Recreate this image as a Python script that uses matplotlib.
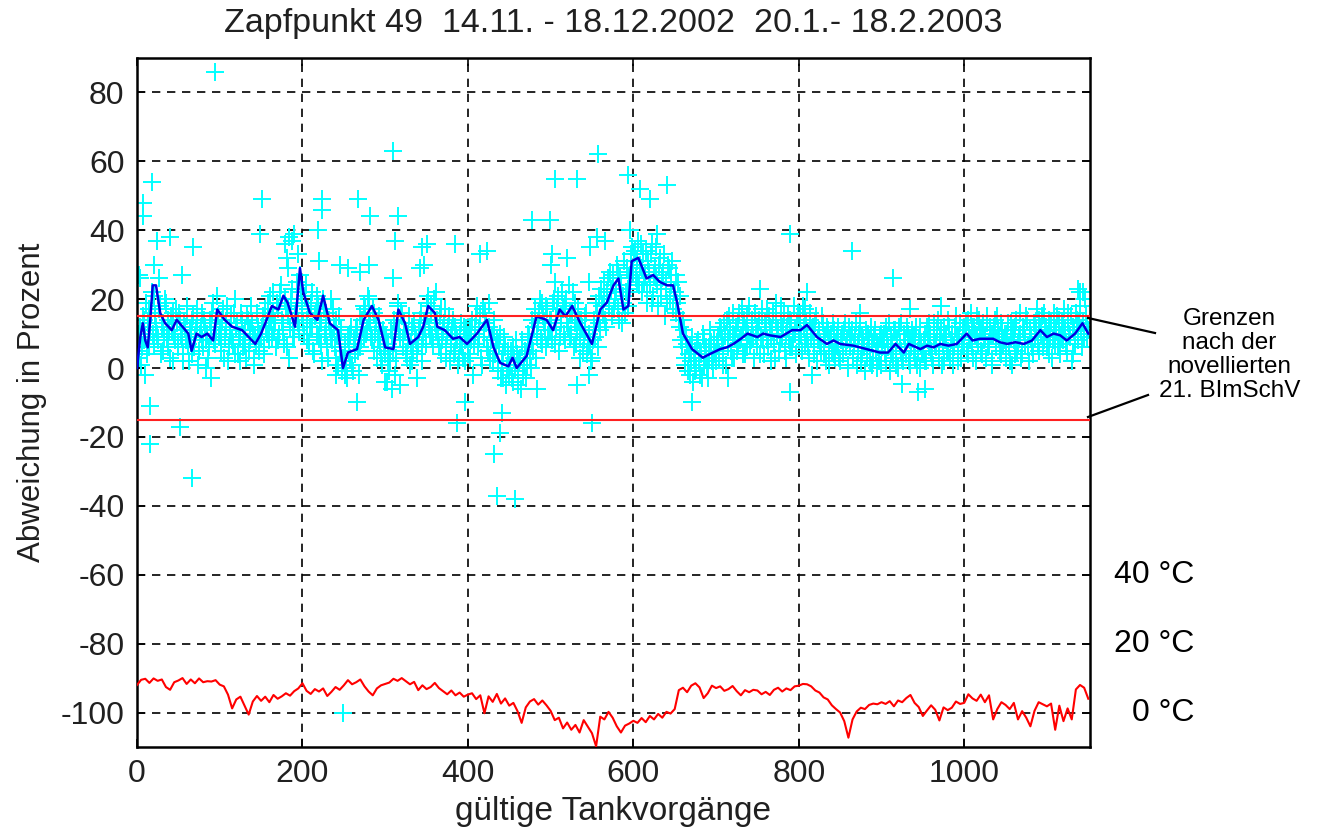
import matplotlib
matplotlib.use('Agg')
import matplotlib.pyplot as plt
import numpy as np

plt.rcParams['font.family'] = ['Liberation Sans', 'DejaVu Sans']
plt.rcParams['axes.unicode_minus'] = False

# Abweichung je Tankvorgang, gerade Vorgaenge (x = 0, 2, 4, ...)
dev_even = [
    8, 3, 12, 6, 14, 9, 4, 17, 11, 22, 7, 15, 10, 26, 18, 12, 5, 20, 9, 14, 3, 11, 16, 8, 13,
    6, 14, 9, 2, 12, 18, 7, 11, 4, 15, 9, 13, 1, 10, 16, 6, 12, 8, 3, 14, 10, 19, 7, 12, 15,
    11, 5, 17, 9, 13, 2, 10, 15, 7, 20, 12, 4, 9, 16, 6, 11, 3, 14, 8, 18, 10, 1, 7, 12, 5,
    9, 15, 4, 12, 19, 8, 14, 22, 11, 6, 17, 10, 24, 13, 7, 18, 15, 3, 20, 12, 9, 16, 25, 11, 22,
    18, 10, 24, 14, 7, 19, 12, 4, 16, 21, 9, 13, 2, 17, 11, 6, 14, 20, 8, 12, 3, 10, 15, 5, -1,
    2, 7, -3, 5, 10, 1, 8, 4, 12, -2, 6, 14, 9, 17, 11, 20, 13, 8, 16, 10, 3, 12, 6, 1, 9,
    4, -4, 7, 2, 10, 5, -2, 13, 18, 9, 15, 6, 11, 3, 8, 1, 12, 5, 10, -3, 7, 14, 2, 9, 12,
    15, 21, 10, 18, 7, 13, 22, 9, 15, 4, 11, 17, 6, 12, 2, 9, 14, 5, 10, 1, 7, 13, 3, 8, 11,
    4, 12, 8, -2, 10, 15, 6, 11, 3, 17, 9, 13, 5, 19, 8, 2, 11, 6, 0, 7, -3, 4, 9, -5, 2,
    -2, 5, -4, 3, 8, -1, 2, -6, 6, 1, -3, 4, 9, 0, 7, 12, 3, 10, 16, 8, 19, 13, 6, 17, 11,
    14, 8, 20, 12, 17, 5, 15, 22, 10, 18, 13, 24, 9, 16, 6, 19, 11, 14, 3, 12, 8, 15, 4, 10, 7,
    3, 12, 9, 16, 21, 11, 18, 25, 14, 22, 19, 28, 15, 24, 20, 30, 17, 26, 13, 21, 16, 29, 23, 27, 35,
    28, 34, 25, 37, 30, 22, 33, 27, 19, 31, 24, 36, 21, 29, 26, 18, 32, 23, 28, 15, 25, 30, 20, 27, 17,
    22, 16, 25, 12, 8, 14, 3, 9, -1, 6, 2, -4, 5, 0, 8, -2, 4, 10, 1, 6, -3, 3, 7, 0, 5,
    2, 9, 4, 11, 6, 13, 1, 8, 15, 5, 10, 3, 12, 7, 16, 9, 4, 14, 11, 6, 18, 8, 13, 3, 10,
    6, 14, 9, 17, 4, 12, 8, 15, 2, 11, 7, 19, 10, 5, 13, 9, 16, 3, 12, 8, 14, 6, 18, 10, 13,
    8, 15, 5, 12, 17, 9, 3, 14, 11, 6, 13, 2, 10, 7, 15, 4, 9, 12, 1, 8, 5, 11, 3, 9, 6,
    2, 10, 5, 13, 8, 0, 6, 11, 3, 9, 1, 7, 12, 4, 8, -1, 5, 10, 2, 7, 3, 11, 0, 6, 9,
    1, 8, 4, 12, 6, -1, 9, 3, 11, 5, 0, 7, 13, 2, 8, 4, 10, 1, 6, 9, 3, 12, 5, 0, 7,
    4, 10, 2, 8, 13, 5, 1, 9, 6, 14, 3, 11, 7, 2, 10, 5, 12, 8, 1, 6, 15, 4, 9, 3, 11,
    7, 13, 4, 10, 16, 6, 12, 2, 9, 14, 5, 11, 8, 3, 13, 7, 10, 1, 12, 6, 15, 9, 4, 11, 8,
    3, 10, 6, 13, 1, 8, 12, 5, 9, 16, 4, 11, 7, 14, 2, 10, 6, 13, 9, 17, 5, 12, 15, 8, 11,
    6, 14, 9, 3, 12, 7, 15, 10, 4, 13, 8, 11, 5, 16, 9, 2, 12, 7, 14, 10, 18, 6, 13, 20, 9,
    11,
]

# ungerade Vorgaenge (x = 1, 3, 5, ...)
dev_odd = [
    5, 10, 1, 15, 8, 19, 13, 6, 16, 10, 21, 12, 8, 17, 4, 13, 9, 19, 6, 11, 15, 2, 10, 17, 7,
    16, 10, 4, 13, 8, 15, 2, 9, 14, 6, 11, 17, 5, 12, 8, 14, 0, 10, 6, 13, 16, 8, 11, 21, 9,
    8, 14, 3, 12, 18, 6, 11, 8, 16, 4, 13, 9, 2, 14, 10, 7, 15, 5, 11, 13, 3, 9, 16, 6, 10,
    12, 6, 17, 10, 14, 21, 9, 16, 13, 19, 8, 22, 14, 11, 20, 6, 17, 12, 23, 9, 15, 19, 13, 27, 16,
    13, 21, 8, 17, 12, 22, 5, 15, 10, 18, 14, 7, 20, 10, 16, 3, 12, 9, 17, 6, 14, 1, 8, 11, 3,
    6, 0, 9, 3, 12, -1, 7, 11, 5, 15, 8, 12, 18, 10, 21, 14, 9, 17, 5, 13, 8, 15, 3, 11, 6,
    9, 2, -1, 11, 6, 14, 3, 19, 11, 16, 8, 13, 4, 10, 15, 7, 2, 13, 8, 4, 11, 16, 6, 13, 7,
    19, 12, 16, 9, 20, 11, 14, 6, 17, 8, 13, 3, 10, 15, 7, 11, 4, 12, 8, 3, 10, 6, 12, 2, 9,
    9, 3, 14, 7, 12, 18, 9, 15, 1, 11, 16, 6, 12, 3, 9, 14, 4, 8, -1, 10, 2, -3, 6, 0, 5,
    1, -3, 6, 0, 4, -5, 3, 8, -2, 5, 1, 10, 3, 14, 5, 17, 9, 13, 20, 7, 15, 11, 18, 9, 14,
    11, 19, 7, 15, 21, 9, 13, 17, 8, 20, 12, 16, 10, 22, 13, 7, 17, 9, 14, 5, 11, 16, 6, 9, 2,
    8, 14, 19, 6, 13, 23, 16, 20, 12, 26, 18, 23, 27, 17, 22, 28, 14, 24, 19, 31, 22, 18, 26, 33, 29,
    33, 26, 31, 24, 36, 29, 25, 34, 22, 28, 33, 19, 27, 35, 24, 30, 21, 26, 33, 23, 19, 29, 24, 31, 22,
    27, 19, 14, 21, 6, 11, 1, 7, 4, -2, 9, 3, -1, 7, 2, 5, -3, 8, 3, 0, 6, 11, 2, 8, 4,
    7, 3, 12, 8, 1, 10, 14, 6, 11, 3, 16, 9, 5, 13, 8, 17, 12, 4, 15, 10, 7, 14, 9, 16, 12,
    11, 4, 15, 8, 13, 17, 6, 12, 9, 16, 3, 14, 11, 7, 18, 12, 5, 10, 15, 6, 13, 9, 11, 4, 16,
    14, 10, 18, 7, 13, 6, 16, 9, 12, 4, 15, 8, 11, 5, 13, 9, 2, 11, 6, 10, 13, 4, 7, 12, 3,
    8, 4, 11, 6, 1, 12, 9, 3, 7, 13, 5, 10, 2, 9, 6, 11, 3, 8, 12, 1, 9, 5, 7, 2, 10,
    6, 10, 2, 9, 13, 4, 7, 11, 1, 8, 12, 5, 3, 10, 6, 12, 2, 8, 11, 5, 9, 1, 8, 12, 4,
    8, 2, 12, 6, 10, 3, 13, 7, 11, 4, 9, 1, 12, 8, 5, 14, 3, 10, 6, 12, 9, 2, 13, 7, 10,
    11, 5, 14, 8, 12, 3, 10, 15, 7, 11, 4, 13, 9, 15, 6, 12, 2, 10, 14, 8, 11, 5, 13, 7, 10,
    8, 13, 2, 9, 11, 4, 14, 7, 10, 3, 12, 8, 15, 6, 11, 9, 4, 13, 11, 7, 14, 10, 6, 16, 12,
    10, 4, 13, 8, 16, 11, 6, 14, 9, 12, 17, 7, 13, 10, 15, 4, 11, 16, 8, 13, 11, 22, 9, 15, 12,
]

# einzelne Ausreisser
out_x = [94, 310, 18, 7, 7, 151, 224, 224, 267, 282, 316, 24, 40, 68, 149, 179, 184, 187, 190,
         219, 312, 345, 347, 181, 183, 195, 220, 246, 255, 270, 280, 21, 54, 4, 310, 2,
         10, 90, 16, 52, 16, 66, 266, 240, 252, 300, 308, 318,
         557, 505, 532, 594, 608, 620, 641, 478, 499, 351, 385, 415, 423, 500, 502, 520, 342,
         548, 556, 566, 596, 629, 505, 546,
         397, 387, 441, 439, 431, 435, 457, 550, 532, 671, 483, 547, 249,
         790, 864, 914, 753, 810, 1137, 1140, 715, 790, 816, 925, 944, 953, 874, 935, 972]
out_y = [86, 63, 54, 48, 44, 49, 49, 46, 49, 44, 44, 37, 38, 35, 39, 36, 38, 37, 39,
         40, 37, 35, 30, 32, 29, 33, 31, 30, 29, 28, 30, 30, 27, 26, 26, 27,
         -2, -3, -11, -17, -22, -32, -10, -2, -2, -4, -6, -5,
         62, 55, 55, 56, 52, 49, 53, 43, 43, 36, 36, 33, 34, 30, 33, 32, 29,
         35, 38, 37, 40, 39, 25, 25,
         -10, -16, -13, -19, -25, -37, -38, -16, -5, -10, -6, -2, -100,
         39, 34, 26, 23, 22, 23, 22, -3, -7, -2, -4.5, -7, -6, 16, 17, 18]

# gleitender Mittelwert
mean_x = [0, 4, 7, 10, 13, 16, 19, 23, 28, 34, 42, 48, 55, 62, 66, 72, 78, 85, 92, 97, 106, 115,
          127, 135, 143, 150, 155, 163, 171, 177, 182, 186, 191, 197, 201, 209, 218, 225, 233,
          243, 249, 255, 266, 274, 284, 292, 300, 310, 316, 324, 330, 340, 346, 352, 360, 363,
          372, 382, 390, 399, 411, 417, 423, 431, 439, 449, 454, 459, 471, 483, 495, 503, 511,
          518, 526, 536, 550, 560, 568, 576, 582, 588, 594, 598, 606, 616, 624, 632, 641, 648,
          653, 660, 671, 684, 692, 705, 713, 721, 730, 738, 750, 757, 765, 778, 792, 802, 810,
          822, 834, 842, 850, 866, 882, 898, 908, 917, 927, 933, 947, 955, 963, 971, 981, 991,
          1003, 1010, 1019, 1035, 1043, 1052, 1062, 1072, 1082, 1092, 1100, 1108, 1116, 1124,
          1134, 1143, 1150]
mean_y = [0, 9, 13, 8, 6, 14, 24, 24, 16, 13, 11, 14, 12, 10, 5, 10, 9, 10, 8, 17, 14, 12,
          11, 9, 7, 10, 13, 18, 17, 21, 19, 16, 12, 29, 22, 16, 14, 21, 13,
          11, 0, 4.5, 5.5, 14, 18, 14, 6, 5.5, 17, 13, 7, 9, 12, 18, 16, 12,
          11, 8.5, 9, 7, 10, 12, 14, 6, 1.5, 0.5, 3, 0, 3.5, 15, 14, 11, 17,
          15, 18, 13, 7, 17, 19, 24, 26, 17, 18, 31, 32, 26, 27, 25, 24, 24,
          19, 10, 5.5, 3, 4, 5.5, 6, 7, 8.5, 10, 9, 10, 9.5, 9, 11, 11, 12.5,
          9, 7, 8, 7, 6.5, 5.5, 4.5, 4.5, 7, 4.5, 7, 5.5, 6.5, 6, 7, 6.5, 7,
          10, 8, 8.5, 8.5, 7.5, 7, 7.5, 7, 8, 11, 9, 10, 9.5, 8,
          10, 13, 10]

# Temperatur in °C, alle 5 Vorgaenge
temp_c = [
    8, 9.5, 9.8, 8.6, 9.9, 9.2, 9.6, 7.4, 6.6, 8.8,
    9.3, 10, 8.3, 9.6, 8.5, 9.9, 8.8, 9.1, 9.0, 9.4,
    8.1, 7.6, 5.2, 1.2, 3.8, 4.6, 2.0, -0.6, 3.2, 4.8,
    3.4, 4.6, 3.0, 5.1, 4.0, 4.7, 5.6, 4.9, 6.2, 7.0,
    8.5, 6.3, 5.4, 6.8, 6.1, 7.0, 4.8, 6.0, 7.4, 6.6,
    7.9, 9.4, 8.2, 8.8, 9.6, 7.6, 6.1, 5.0, 7.0, 7.9,
    8.3, 8.7, 9.8, 9.2, 10, 9.1, 8.2, 8.9, 6.5, 7.9,
    6.8, 7.4, 8.6, 7.1, 6.2, 5.3, 6.4, 5.0, 5.8, 4.6,
    5.2, 5.6, 3.9, 5.0, -0.2, 4.7, 3.1, 5.4, 2.6, 4.1,
    2.0, 2.8, 0.4, -3.0, 1.5, 3.2, 3.9, 2.3, 3.5, 2.1,
    0.5, -2.2, -1.5, -4.6, -2.9, -5.0, -3.6, -5.8, -2.2, -4.1,
    -6.0, -9.8, -1.2, -2.0, 0.2, -1.5, -4.0, -5.8, -3.8, -3.2,
    -2.4, -3.0, -1.6, -2.8, -1.0, -2.0, -0.4, -1.5, 0.2, -0.3,
    1.0, 6.5, 7.2, 5.9, 7.8, 8.5, 7.3, 4.2, 5.6, 7.8,
    7.1, 7.6, 6.3, 6.8, 7.7, 6.2, 5.0, 6.5, 5.9, 6.6,
    6.4, 5.3, 6.0, 5.1, 6.6, 7.2, 6.1, 7.0, 6.5, 7.6,
    7.8, 8.3, 8.2, 7.6, 6.4, 5.8, 4.4, 3.8, 2.1, 1.0,
    0.0, -2.5, -7.3, -2.0, 0.3, 1.4, 1.0, 2.2, 2.6, 2.4,
    3.0, 2.5, 3.3, 1.8, 3.5, 3.0, 4.2, 5.1, 2.8, 1.6,
    -1.0, 0.6, 2.1, 0.8, -2.3, 1.5, 0.7, 1.4, 3.2, 2.5,
    2.8, 5.3, 4.1, 3.4, 5.2, 3.0, 5.0, -2.0, 1.0, 3.0,
    2.2, 1.0, 2.8, -2.0, 0.4, -1.5, -4.0, 0.5, 3.0, 2.4,
    1.8, 2.6, -5.0, 2.0, -2.5, 1.2, -2.0, 6.7, 8.0, 7.2,
    4.0,
]

limit = 15          # Grenzen nach der 21. BImSchV
temp_offset = -100  # 0 °C liegt bei -100 %

even_x = np.arange(len(dev_even)) * 2
odd_x = np.arange(len(dev_odd)) * 2 + 1
temp_x = np.arange(len(temp_c)) * 5
scatter_x = np.concatenate([even_x, odd_x, out_x])
scatter_y = np.concatenate([dev_even, dev_odd, out_y])

fig = plt.figure(figsize=(13.25, 8.31), dpi=100)
ax = fig.add_axes([0.1034, 0.1011, 0.7192, 0.8291])

ax.plot(scatter_x, scatter_y, '+', color='#00ffff', markersize=13, markeredgewidth=1.4,
        linestyle='none', zorder=2)
ax.plot(mean_x, mean_y, color='#0000e0', linewidth=1.8, zorder=3)
ax.axhline(limit, color='#ff2020', linewidth=1.5, zorder=3)
ax.axhline(-limit, color='#ff2020', linewidth=1.5, zorder=3)
ax.plot(temp_x, np.array(temp_c) + temp_offset, color='#ff0000', linewidth=1.5, zorder=3)

ax.set_xlim(0, 1152)
ax.set_ylim(-110, 90)
ax.set_xticks(range(0, 1001, 200))
ax.set_yticks(range(-100, 81, 20))
ax.grid(True, color='black', linestyle=(0, (5, 4)), linewidth=1.2)
ax.set_axisbelow(True)
ax.tick_params(direction='in', length=6, width=1.2, labelsize=23, top=True, right=True,
               pad=9, labelcolor='#202020')
for s in ax.spines.values():
    s.set_linewidth(1.8)

ax.set_xlabel('gültige Tankvorgänge', fontsize=24, labelpad=5, color='#202020')
ax.set_ylabel('Abweichung in Prozent', fontsize=22.5, labelpad=10, color='#202020')
ax.set_title('Zapfpunkt 49  14.11. - 18.12.2002  20.1.- 18.2.2003', fontsize=24.5, pad=19,
             color='#202020')

# Temperaturskala rechts
for t in (40, 20, 0):
    ax.text(1.110, (t + temp_offset + 110) / 200, '%d °C' % t,
            transform=ax.transAxes, fontsize=23, va='center', ha='right')

fig.text(0.928, 0.573, 'Grenzen\nnach der\nnovellierten\n21. BImSchV',
         fontsize=17.5, ha='center', va='center', linespacing=1.12)
fig.add_artist(plt.Line2D([1088 / 1325, 1155 / 1325], [1 - 318 / 831, 1 - 333 / 831],
                          color='black', linewidth=1.6))
fig.add_artist(plt.Line2D([1088 / 1325, 1148 / 1325], [1 - 417 / 831, 1 - 395 / 831],
                          color='black', linewidth=1.6))

fig.savefig('out.png', dpi=100)
